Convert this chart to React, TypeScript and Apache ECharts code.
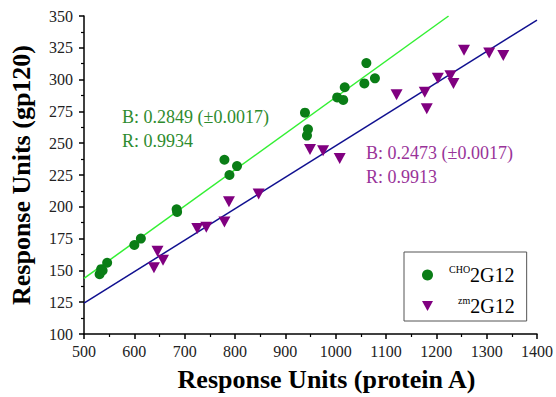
import React, { useEffect, useRef } from "react";
import * as echarts from "echarts";

// CHO-produced 2G12 (green circles)
const choX = [531, 534, 537, 546, 600, 613, 684, 685, 779, 789, 804, 939, 943, 945, 1003, 1015, 1018, 1057, 1061, 1078];
const choY = [147, 151, 150, 156, 170, 175, 198, 196, 237, 225, 232, 274, 256, 261, 286, 284, 294, 297, 313, 301];
// zm-produced 2G12 (purple triangles)
const zmX = [639, 646, 657, 725, 743, 779, 788, 847, 949, 975, 1008, 1121, 1177, 1181, 1203, 1228, 1234, 1255, 1305, 1333];
const zmY = [152, 165, 158, 183, 184, 188, 204, 210, 245, 244, 238, 288, 290, 277, 301, 303, 297, 323, 321, 319];

// Fit lines
const choSlope = 0.2849;
const choIntercept = 1.2;
const zmSlope = 0.2473;
const zmIntercept = 0.6;

const xMin = 500, xMax = 1400, yMin = 100, yMax = 350;

const annoCho = ["B: 0.2849 (\u00b10.0017)", "R: 0.9934"];
const annoZm = ["B: 0.2473 (\u00b10.0017)", "R: 0.9913"];

const SERIF = "Liberation Serif, Times New Roman, serif";
const TRI = "path://M0,0L10,0L5,9Z";

function fitLine(slope: number, intercept: number): number[][] {
  const yAtMax = intercept + slope * xMax;
  const xEnd = yAtMax > yMax ? (yMax - intercept) / slope : xMax;
  return [
    [xMin, intercept + slope * xMin],
    [xEnd, intercept + slope * xEnd],
  ];
}

export default function App() {
  const ref = useRef<HTMLDivElement>(null);
  useEffect(() => {
    if (!ref.current) return;
    const chart = echarts.init(ref.current, null, { renderer: "svg" });
    chart.setOption({
      animation: false,
      backgroundColor: "#fff",
      textStyle: { fontFamily: SERIF },
      grid: { left: 81, right: 19, top: 16, bottom: 61 },
      xAxis: {
        type: "value",
        min: xMin,
        max: xMax,
        interval: 100,
        name: "Response Units (protein A)",
        nameLocation: "middle",
        nameGap: 32,
        nameTextStyle: { fontFamily: SERIF, fontWeight: "bold", fontSize: 26, color: "#000", padding: [0, 0, 0, 32] },
        axisLine: { show: true, lineStyle: { color: "#000", width: 1.5 } },
        axisTick: { show: true, length: 5, lineStyle: { color: "#000", width: 1.5 } },
        minorTick: { show: true, splitNumber: 2, length: 3, lineStyle: { color: "#000", width: 1.2 } },
        splitLine: { show: false },
        axisLabel: { fontFamily: SERIF, fontSize: 16, color: "#222", margin: 9, formatter: (v: number) => String(v) },
      },
      yAxis: {
        type: "value",
        min: yMin,
        max: yMax,
        interval: 25,
        name: "Response Units (gp120)",
        nameLocation: "middle",
        nameGap: 50,
        nameTextStyle: { fontFamily: SERIF, fontWeight: "bold", fontSize: 26, color: "#000" },
        axisLine: { show: true, lineStyle: { color: "#000", width: 1.5 } },
        axisTick: { show: true, length: 5, lineStyle: { color: "#000", width: 1.5 } },
        minorTick: { show: true, splitNumber: 2, length: 3, lineStyle: { color: "#000", width: 1.2 } },
        splitLine: { show: false },
        axisLabel: { fontFamily: SERIF, fontSize: 16, color: "#222", margin: 11, formatter: (v: number) => String(v) },
      },
      legend: {
        data: [
          { name: "cho", icon: "circle" },
          { name: "zm", icon: TRI },
        ],
        orient: "vertical",
        left: 404,
        top: 252,
        borderColor: "#555",
        borderWidth: 1,
        padding: [12, 12, 5, 18],
        itemGap: 10,
        itemWidth: 11,
        itemHeight: 11,
        formatter: (n: string) => (n === "cho" ? "{s1|CHO}{m|2G12}" : "{s2|zm}{m|2G12}"),
        textStyle: {
          fontFamily: SERIF,
          color: "#000",
          rich: {
            s1: { fontFamily: SERIF, fontSize: 10, color: "#000", padding: [0, 0, 9, 11], verticalAlign: "top" },
            s2: { fontFamily: SERIF, fontSize: 10, color: "#000", padding: [0, 0, 9, 20], verticalAlign: "top" },
            m: { fontFamily: SERIF, fontSize: 20, color: "#000", lineHeight: 22 },
          },
        },
      },
      series: [
        {
          name: "choFit",
          type: "line",
          data: fitLine(choSlope, choIntercept),
          symbol: "none",
          lineStyle: { color: "#33f033", width: 1.5 },
          z: 1,
        },
        {
          name: "zmFit",
          type: "line",
          data: fitLine(zmSlope, zmIntercept),
          symbol: "none",
          lineStyle: { color: "#101090", width: 1.5 },
          z: 1,
        },
        {
          name: "cho",
          type: "scatter",
          data: choX.map((x, i) => [x, choY[i]]),
          symbol: "circle",
          symbolSize: 10,
          itemStyle: { color: "#0a7d16", opacity: 1 },
          z: 3,
        },
        {
          name: "zm",
          type: "scatter",
          data: zmX.map((x, i) => [x, zmY[i]]),
          symbol: TRI,
          symbolSize: [12, 11],
          itemStyle: { color: "#800080", opacity: 1 },
          z: 3,
        },
      ],
      graphic: [
        {
          type: "text",
          left: 122,
          top: 108,
          style: { text: annoCho[0], fontFamily: SERIF, fontSize: 18, fill: "#2e8b2e" },
        },
        {
          type: "text",
          left: 122,
          top: 132,
          style: { text: annoCho[1], fontFamily: SERIF, fontSize: 18, fill: "#2e8b2e" },
        },
        {
          type: "text",
          left: 366,
          top: 144,
          style: { text: annoZm[0], fontFamily: SERIF, fontSize: 18, fill: "#993399" },
        },
        {
          type: "text",
          left: 366,
          top: 168,
          style: { text: annoZm[1], fontFamily: SERIF, fontSize: 18, fill: "#993399" },
        },
      ],
    });
    return () => chart.dispose();
  }, []);
  return <div ref={ref} style={{ width: 556, height: 397, position: "absolute", left: 0, top: 0 }} />;
}
